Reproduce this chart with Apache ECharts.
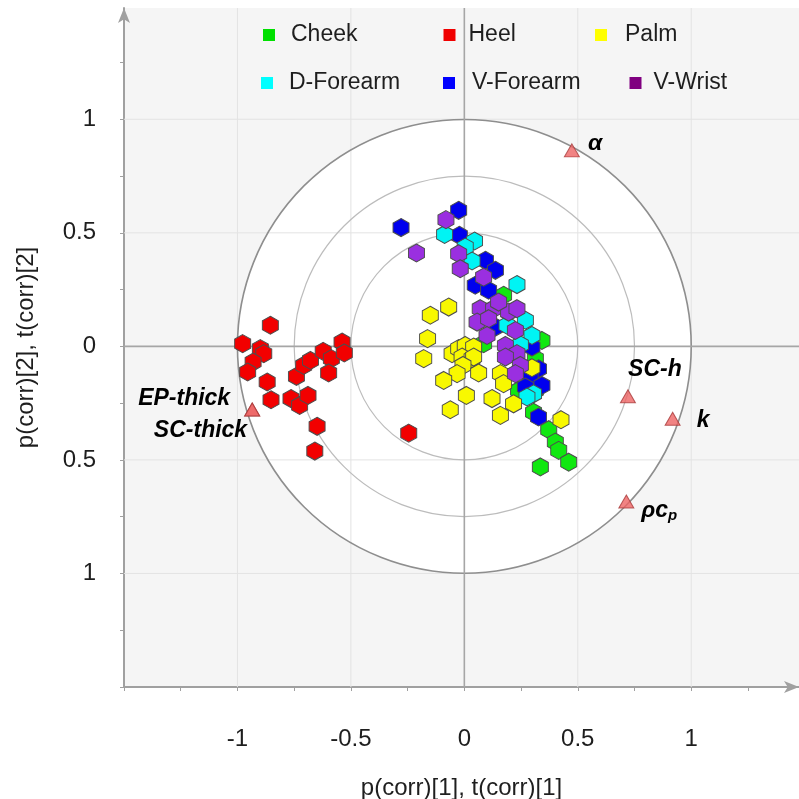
<!DOCTYPE html>
<html>
<head>
<meta charset="utf-8">
<script src="https://cdn.jsdelivr.net/npm/echarts@6/dist/echarts.min.js"></script>
<style>
  html, body { margin: 0; padding: 0; background: #ffffff; }
  #chart { width: 799px; height: 799px; }
</style>
</head>
<body>
<div id="chart"></div>
<script>
// ---------------- data ----------------
const categories = ['Cheek', 'Heel', 'Palm', 'D-Forearm', 'V-Forearm', 'V-Wrist'];

const cheek = [
  [0.085, 0.012], [0.173, 0.225], [0.342, 0.026], [0.313, -0.054], [0.239, -0.194],
  [0.313, -0.194], [0.305, -0.29], [0.372, -0.367], [0.401, -0.421], [0.416, -0.458],
  [0.46, -0.51], [0.335, -0.531]
];
const heel = [
  [-0.855, 0.093], [-0.977, 0.012], [-0.899, -0.01], [-0.884, -0.032], [-0.931, -0.069],
  [-0.955, -0.113], [-0.869, -0.157], [-0.852, -0.235], [-0.764, -0.23], [-0.726, -0.26],
  [-0.689, -0.216], [-0.74, -0.132], [-0.708, -0.084], [-0.678, -0.062], [-0.622, -0.022],
  [-0.586, -0.054], [-0.598, -0.117], [-0.539, 0.019], [-0.529, -0.029], [-0.649, -0.352],
  [-0.659, -0.461], [-0.245, -0.382]
];
const palm = [
  [-0.069, 0.173], [-0.15, 0.137], [-0.162, 0.034], [-0.179, -0.054], [-0.054, -0.032],
  [-0.025, -0.01], [0.004, 0.004], [0.041, -0.003], [-0.010, -0.047], [0.034, -0.054],
  [0.041, -0.047], [-0.006, -0.084], [-0.032, -0.12], [0.063, -0.117], [-0.091, -0.15],
  [0.009, -0.216], [-0.062, -0.279], [0.159, -0.12], [0.173, -0.164], [0.122, -0.23],
  [0.159, -0.304], [0.217, -0.253], [0.298, -0.094], [0.426, -0.323]
];
const dForearm = [
  [-0.087, 0.493], [0.045, 0.464], [0.004, 0.437], [0.034, 0.376], [0.232, 0.272],
  [0.269, 0.115], [0.298, 0.048], [0.247, 0.007], [0.188, 0.093], [0.305, -0.209],
  [0.276, -0.223]
];
const vForearm = [
  [-0.279, 0.523], [-0.025, 0.599], [-0.022, 0.489], [0.093, 0.379], [0.137, 0.335],
  [0.048, 0.269], [0.107, 0.247], [0.137, 0.085], [0.298, -0.003], [0.327, -0.099],
  [0.29, -0.135], [0.269, -0.179], [0.342, -0.172], [0.327, -0.311]
];
const vWrist = [
  [-0.081, 0.558], [-0.211, 0.411], [-0.025, 0.408], [-0.018, 0.342], [0.085, 0.305],
  [0.07, 0.166], [0.129, 0.166], [0.195, 0.151], [0.151, 0.195], [0.232, 0.166],
  [0.056, 0.107], [0.107, 0.122], [0.1, 0.048], [0.225, 0.07], [0.181, 0.004],
  [0.232, -0.032], [0.181, -0.047], [0.247, -0.084], [0.225, -0.12]
];

const variableNames = ['α', 'SC-h', 'k', 'ρcp', 'EP-thick', 'SC-thick'];
const variablePoints = [
  [0.474, 0.863], [0.721, -0.220], [0.918, -0.319], [0.714, -0.683], [-0.935, -0.278], [-0.935, -0.278]
];

const circleRadii = [1, 0.75, 0.5];
const gridValues = [-1, -0.5, 0.5, 1];

const xTickValues = [-1.5, -1.25, -1, -0.75, -0.5, -0.25, 0, 0.25, 0.5, 0.75, 1, 1.25];
const yTickValues = [-1.5, -1.25, -1, -0.75, -0.5, -0.25, 0, 0.25, 0.5, 0.75, 1, 1.25];
const xLabelValues = [-1, -0.5, 0, 0.5, 1];
const xLabelTexts = ['-1', '-0.5', '0', '0.5', '1'];
const yLabelValues = [1, 0.5, 0, -0.5, -1];
const yLabelTexts = ['1', '0.5', '0', '0.5', '1'];

const xAxisTitle = 'p(corr)[1], t(corr)[1]';
const yAxisTitle = 'p(corr)[2], t(corr)[2]';

// ---------------- styles ----------------
const seriesData = [cheek, heel, palm, dForearm, vForearm, vWrist];
const pointColors = ['#10e810', '#f20000', '#f8f800', '#00f4f4', '#0000ee', '#9a2fe0'];
const legendColors = ['#00e000', '#f00000', '#ffff00', '#00ffff', '#0000ff', '#800080'];
const drawOrder = [0, 1, 4, 3, 2, 5];
const legendLayout = [
  { left: 263, top: 22.5, gap: 16 }, { left: 443.5, top: 22.5, gap: 13 }, { left: 595, top: 22.5, gap: 18 },
  { left: 261, top: 70.5, gap: 16 }, { left: 443, top: 70.5, gap: 17 }, { left: 629.5, top: 70.5, gap: 12 }
];
const labelLayout = {
  'α': { position: 'right', distance: 8, offset: [0, -7] },
  'SC-h': { position: 'top', distance: 8, offset: [27, 0] },
  'k': { position: 'right', distance: 16, offset: [0, 2] },
  'ρcp': { position: 'right', distance: 7, offset: [0, 9] },
  'EP-thick': { position: 'left', distance: 14, offset: [0, -11] },
  'SC-thick': { position: 'left', distance: 0, offset: [3, 21] }
};
const FONT = '"Liberation Sans", Arial, Helvetica, sans-serif';
const hexPath = 'path://M8,0 L16,4.5 L16,13.5 L8,18 L0,13.5 L0,4.5 Z';

const chart = echarts.init(document.getElementById('chart'), null, { renderer: 'canvas' });

function straightLines(values, vertical, color, width, z) {
  return {
    type: 'custom', silent: true, z: z,
    data: values.map(v => vertical ? [v, 0] : [0, v]),
    renderItem: function (params, api) {
      const cs = params.coordSys;
      if (vertical) {
        const x = api.coord([api.value(0), 0])[0];
        return { type: 'line', shape: { x1: x, y1: cs.y, x2: x, y2: cs.y + cs.height },
          style: { stroke: color, lineWidth: width } };
      }
      const y = api.coord([0, api.value(1)])[1];
      return { type: 'line', shape: { x1: cs.x, y1: y, x2: cs.x + cs.width, y2: y },
        style: { stroke: color, lineWidth: width } };
    }
  };
}

function circles(filled, z) {
  return {
    type: 'custom', silent: true, z: z,
    data: circleRadii.map(r => [0, 0, r]),
    renderItem: function (params, api) {
      const c = api.coord([api.value(0), api.value(1)]);
      const r = api.size([api.value(2), 0])[0];
      const outer = params.dataIndex === 0;
      if (filled) {
        if (!outer) return null;
        return { type: 'circle', shape: { cx: c[0], cy: c[1], r: r }, style: { fill: '#ffffff', stroke: null } };
      }
      return { type: 'circle', shape: { cx: c[0], cy: c[1], r: r },
        style: { fill: null, stroke: outer ? '#8e8e8e' : '#bcbcbc', lineWidth: outer ? 1.6 : 1.2 } };
    }
  };
}

const series = [
  circles(true, 1),
  straightLines(gridValues, true, '#e3e3e3', 1, 2),
  straightLines(gridValues, false, '#e3e3e3', 1, 2),
  circles(false, 3),
  straightLines([0], true, '#a6a6a6', 1.6, 3),
  straightLines([0], false, '#a6a6a6', 1.6, 3)
];

drawOrder.forEach(function (i) {
  series.push({
    type: 'scatter', name: categories[i], data: seriesData[i], z: 5,
    symbol: hexPath, symbolSize: [16, 18],
    itemStyle: { color: pointColors[i], borderColor: '#4d4d4d', borderWidth: 1, opacity: 1 },
    emphasis: { disabled: true }
  });
});

const labelFont = { fontFamily: FONT, fontSize: 23, fontWeight: 'bold', fontStyle: 'italic', color: '#000000', opacity: 1 };

series.push({
  type: 'scatter', name: 'variables', z: 6,
  symbol: 'triangle', symbolSize: [15, 13],
  itemStyle: { color: '#ee6464', borderColor: '#a83a3a', borderWidth: 1 },
  data: variablePoints.map(function (p, i) {
    const name = variableNames[i];
    const lay = labelLayout[name];
    return {
      value: p, name: name,
      label: Object.assign({
        show: true, position: lay.position, distance: lay.distance, offset: lay.offset,
        formatter: name === 'ρcp' ? '{a|ρc}{b|p}' : name,
        rich: {
          a: Object.assign({}, labelFont, { lineHeight: 26 }),
          b: Object.assign({}, labelFont, { fontSize: 15, lineHeight: 15, verticalAlign: 'bottom' })
        }
      }, labelFont)
    };
  }),
  emphasis: { disabled: true }
});

const legends = categories.map(function (name, i) {
  const L = legendLayout[i];
  return {
    left: L.left, top: L.top, padding: 0, itemWidth: 12, itemHeight: 12,
    selectedMode: false,
    data: [{ name: name, icon: 'rect', itemStyle: { color: legendColors[i], borderWidth: 0 } }],
    textStyle: { fontFamily: FONT, fontSize: 23, color: '#1e1e1e', lineHeight: 25, padding: [0, 0, 0, L.gap - 5] }
  };
});

const axisLineStyle = { color: '#a0a0a0', width: 2 };

const option = {
  animation: false,
  backgroundColor: '#ffffff',
  legend: legends,
  grid: { left: 124, right: 0, top: 8, bottom: 112, show: true, backgroundColor: '#f5f5f5', borderWidth: 0,
          outerBoundsMode: 'none', containLabel: false },
  xAxis: {
    type: 'value', min: -1.5, max: 1.475,
    name: xAxisTitle, nameLocation: 'middle', nameGap: 89,
    nameTextStyle: { fontFamily: FONT, fontSize: 24, color: '#1e1e1e' },
    axisLine: { show: true, onZero: false, lineStyle: axisLineStyle, symbol: ['none', 'arrow'], symbolSize: [9, 15] },
    axisTick: { show: true, length: 4, lineStyle: { color: '#a0a0a0', width: 1 }, customValues: xTickValues },
    axisLabel: {
      customValues: xLabelValues, margin: 40,
      fontFamily: FONT, fontSize: 24, color: '#1e1e1e',
      formatter: function (v) { const k = xLabelValues.indexOf(v); return k >= 0 ? xLabelTexts[k] : ''; }
    },
    splitLine: { show: false }
  },
  yAxis: {
    type: 'value', min: -1.5, max: 1.49,
    name: yAxisTitle, nameLocation: 'middle', nameGap: 86,
    nameTextStyle: { fontFamily: FONT, fontSize: 24, color: '#1e1e1e' },
    axisLine: { show: true, onZero: false, lineStyle: axisLineStyle, symbol: ['none', 'arrow'], symbolSize: [9, 15] },
    axisTick: { show: true, length: 4, lineStyle: { color: '#a0a0a0', width: 1 }, customValues: yTickValues },
    axisLabel: {
      customValues: yLabelValues, margin: 28,
      fontFamily: FONT, fontSize: 24, color: '#1e1e1e',
      formatter: function (v) { const k = yLabelValues.indexOf(v); return k >= 0 ? yLabelTexts[k] : ''; }
    },
    splitLine: { show: false }
  },
  series: series
};

chart.setOption(option);
</script>
</body>
</html>
